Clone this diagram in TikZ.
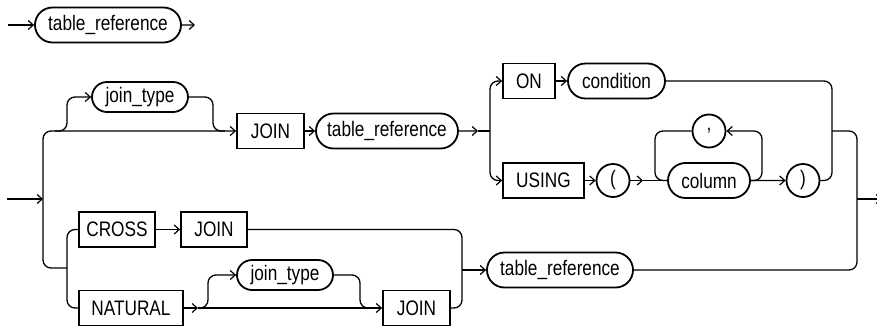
\documentclass[tikz,border=0pt]{standalone}
\usepackage{fontspec}
\setmainfont[FakeStretch=0.82]{Liberation Sans}
\usetikzlibrary{arrows.meta,shapes.misc}
\begin{document}
\begin{tikzpicture}[x=1pt,y=-1pt,line width=1.3pt,
  txt/.style={font=\fontsize{21}{24}\selectfont},
  kw/.style={txt,draw,line width=1.8pt,rectangle,minimum height=35pt,inner sep=0pt,fill=white},
  nt/.style={txt,draw,line width=1.8pt,rounded rectangle,minimum height=35pt,inner sep=0pt,fill=white},
  ch/.style={txt,draw,line width=1.8pt,circle,minimum size=33pt,inner sep=0pt,fill=white},
  rail/.style={line width=1.3pt,rounded corners=8pt},
  arr/.style={-{Straight Barb[length=5pt,width=9pt,line width=1.2pt]}}]
\useasboundingbox (0,0) rectangle (877,330);
% top
\node[nt,minimum width=146pt] (tr0) at (108,25) {table\_reference};
\coordinate (s0) at (8,25);
\coordinate (e0) at (195,25);
\draw[arr] (s0) -- (tr0);
\draw[arr] (tr0) -- (e0);
% nodes
\node[nt,minimum width=96pt,minimum height=30pt] (jt1) at (140,97) {join\_type};
\node[kw,minimum width=67pt] (join1) at (270.5,131) {JOIN};
\node[nt,minimum width=142pt] (tr1) at (387,131) {table\_reference};
\node[kw,minimum width=52pt] (on) at (529,81) {ON};
\node[nt,minimum width=97pt] (cond) at (616.5,81) {condition};
\node[kw,minimum width=81pt] (using) at (543.5,180.5) {USING};
\node[ch] (lp) at (613,180.5) {(};
\node[nt,minimum width=82pt] (col) at (709,180.5) {column};
\node[ch] (comma) at (709,131) {,};
\node[ch] (rp) at (803,180.5) {)};
\node[kw,minimum width=76pt] (cross) at (117,229.5) {CROSS};
\node[kw,minimum width=66pt] (join2) at (214,229.5) {JOIN};
\node[kw,minimum width=104pt] (natural) at (131,308) {NATURAL};
\node[nt,minimum width=96pt,minimum height=30pt] (jt2) at (285,275) {join\_type};
\node[kw,minimum width=67pt] (join3) at (416.5,308) {JOIN};
\node[nt,minimum width=146pt] (tr2) at (560,270) {table\_reference};
% coordinates
\coordinate (in) at (7,199);
\coordinate (L) at (43,199);
\coordinate (f1) at (55,131);
\coordinate (m1) at (225,131);
\coordinate (a1) at (478,131);
\coordinate (F1) at (490,131);
\coordinate (a2) at (643,180.5);
\coordinate (R1) at (832,131);
\coordinate (R2) at (857,199);
\coordinate (out) at (882,199);
\coordinate (R3) at (462,270);
\coordinate (a3) at (198,308);
\coordinate (m3) at (372,308);
% main rails
\draw[arr] (in) -- (L);
\draw[rail,arr] (L) |- (join1.west);
\draw[rail] (L) -- (43,268) -- (67,268);
\draw[rail,arr] (f1) -| (67,97) -- (jt1.west);
\draw[rail] (jt1.east) -| (213,131) -- (m1);
\draw[arr] (join1) -- (tr1);
\draw[arr] (tr1) -- (a1);
\draw (a1) -- (F1);
\draw[rail,arr] (F1) |- (on.west);
\draw[rail,arr] (F1) |- (using.west);
\draw[arr] (on) -- (cond);
\draw[arr] (using) -- (lp);
\draw[arr] (lp) -- (a2);
\draw (a2) -- (col);
\draw[rail,arr] (col.east) -| (762,131) -- (comma.east);
\draw[rail] (comma.west) -| (655,180.5) -- (col.west);
\draw[arr] (col) -- (rp);
\draw[rail] (cond.east) -| (R1) |- (rp.east);
\draw[rail] (R1) -| (R2) |- (tr2.east);
\draw[arr] (R2) -- (out);
% lower
\draw[rail] (cross.west) -| (67,268) |- (natural.west);
\draw[arr] (cross) -- (join2);
\draw[rail] (join2.east) -| (R3) |- (join3.east);
\draw[arr] (R3) -- (tr2);
\draw[arr] (natural) -- (a3);
\draw[arr] (a3) -- (join3);
\draw[rail,arr] (a3) -| (208,275) -- (jt2.west);
\draw[rail] (jt2.east) -| (360,308) -- (m3);
\end{tikzpicture}
\end{document}
